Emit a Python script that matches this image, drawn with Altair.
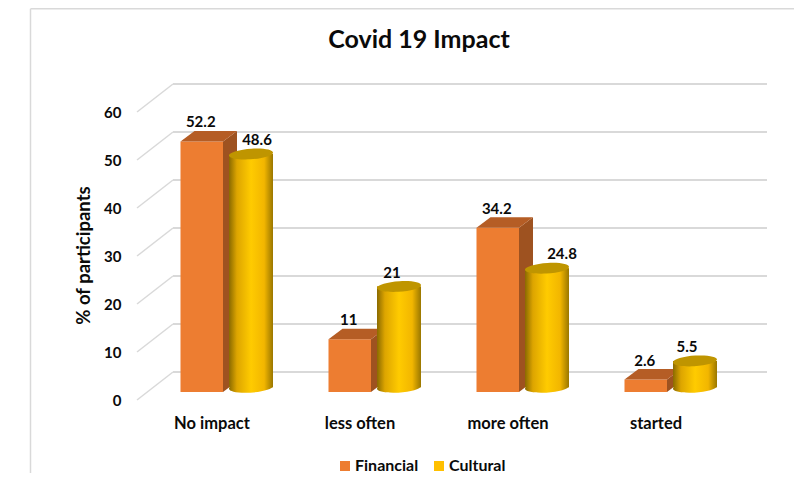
import altair as alt
import pandas as pd

categories = ["No impact", "less often", "more often", "started"]
financial = [52.2, 11, 34.2, 2.6]
cultural = [48.6, 21, 24.8, 5.5]
grid_values = [0, 10, 20, 30, 40, 50, 60]
series_names = ["Financial", "Cultural"]
series_colors = ["#ED7D31", "#FFC000"]
cultural_label_nudge = [6, -7, 15, -8]

FONT = "Lato"
STEP = 148.0
UNIT = 4.8
LEFT, RIGHT, TOP, BOTTOM = 130.0, 794.0, 8.0, 412.0
CAT0_PX, ZERO_Y = 211.5, 400.0


def ux(px):
    return px / STEP


def uy(px):
    return px / UNIT


x_scale = alt.Scale(domain=[(LEFT - CAT0_PX) / STEP, (RIGHT - CAT0_PX) / STEP], nice=False, zero=False)
y_scale = alt.Scale(domain=[(ZERO_Y - BOTTOM) / UNIT, (ZERO_Y - TOP) / UNIT], nice=False, zero=False)
W, H = RIGHT - LEFT, BOTTOM - TOP

FIN_L, FIN_R = ux(-31), ux(11.5)
CYL_L, CYL_R = ux(17.5), ux(61.5)
CYL_C = (CYL_L + CYL_R) / 2
DX, DY = ux(14), uy(10.5)
FIN_LIFT = uy(8)
CYL_LIFT = uy(12.7)
WALL_X0, WALL_X1 = ux(173 - 211.5), ux(767 - 211.5)
FRONT_X = ux(137 - 211.5)
WALL_LIFT = uy(28)

grid = pd.DataFrame({"v": grid_values})
grid["wy"] = grid.v + WALL_LIFT
grid["x0"], grid["x1"], grid["xf"] = WALL_X0, WALL_X1, FRONT_X

x_axis = alt.Axis(values=list(range(len(categories))),
                  labelExpr="['" + "','".join(categories) + "'][round(datum.value)]",
                  title=None, domain=False, ticks=False, grid=False,
                  labelFont=FONT, labelFontWeight="bold", labelFontSize=16.5,
                  labelColor="#0A0A0A", labelPadding=3)
y_axis = alt.Axis(values=grid_values, title="% of participants", titleFont=FONT,
                  titleFontWeight="bold", titleFontSize=18.5, titleColor="#0A0A0A",
                  titleX=-37, titleY=H - 157, domain=False, ticks=False, grid=False,
                  labelFont=FONT, labelFontWeight="bold", labelFontSize=15,
                  labelColor="#0A0A0A", labelPadding=9)


def XX(field):
    return alt.X(field, scale=x_scale, axis=x_axis)


def YY(field):
    return alt.Y(field, scale=y_scale, axis=y_axis)


GRID = "#D9D9D9"
frame = pd.DataFrame({"x": [ux(30.5 - 211.5), ux(30.5 - 211.5)],
                      "x2": [ux(30.5 - 211.5), ux(802 - 211.5)],
                      "y": [(ZERO_Y - 8.7) / UNIT, (ZERO_Y - 8.7) / UNIT],
                      "y2": [(ZERO_Y - 489) / UNIT, (ZERO_Y - 8.7) / UNIT]})
frame_layer = alt.Chart(frame).mark_rule(color=GRID, strokeWidth=1.5).encode(
    x=XX("x:Q"), x2="x2:Q", y=YY("y:Q"), y2="y2:Q")

back = alt.Chart(grid).mark_rule(color=GRID, strokeWidth=2).encode(
    x=XX("x0:Q"), x2="x1:Q", y=YY("wy:Q"))
slant = alt.Chart(grid).mark_rule(color=GRID, strokeWidth=1.5).encode(
    x=XX("xf:Q"), x2="x0:Q", y=YY("v:Q"), y2="wy:Q")

rows_front, rows_side, rows_top, rows_cyl, rows_text = [], [], [], [], []
for i, cat in enumerate(categories):
    f, c = financial[i], cultural[i]
    base, top = FIN_LIFT, FIN_LIFT + f
    rows_front.append(dict(series="Financial", x=i + FIN_L, x2=i + FIN_R, y=top, y2=base))
    rows_side += [dict(id=i, x=i + FIN_R, y=base, y2=top),
                  dict(id=i, x=i + FIN_R + DX, y=base + DY, y2=top + DY)]
    rows_top += [dict(id=i, y=top, x=i + FIN_L, x2=i + FIN_R),
                 dict(id=i, y=top + DY, x=i + FIN_L + DX, x2=i + FIN_R + DX)]
    cb, ct = CYL_LIFT, CYL_LIFT + c
    rows_front.append(dict(series="Cultural", x=i + CYL_L, x2=i + CYL_R, y=ct, y2=cb))
    rows_cyl.append(dict(x=i + CYL_L, x2=i + CYL_R, xc=i + CYL_C, y=ct, y2=cb))
    rows_text.append(dict(x=i + (FIN_L + FIN_R) / 2 + ux(-1), y=top + uy(19), t=f"{f:g}"))
    rows_text.append(dict(x=i + CYL_C + ux(cultural_label_nudge[i]), y=ct + uy(14), t=f"{c:g}"))

front = alt.Chart(pd.DataFrame(rows_front)).mark_rect().encode(
    x=XX("x:Q"), x2="x2:Q", y=YY("y:Q"), y2="y2:Q",
    color=alt.Color("series:N", scale=alt.Scale(domain=series_names, range=series_colors),
                    legend=alt.Legend(orient="none", legendX=207, legendY=450, direction="horizontal",
                                      title=None, symbolType="square", symbolSize=100,
                                      labelFont=FONT, labelFontWeight="bold", labelFontSize=16,
                                      labelColor="#0A0A0A", columnPadding=12, labelOffset=2,
                                      symbolStrokeWidth=0, symbolOpacity=1)))

side = alt.Chart(pd.DataFrame(rows_side)).mark_area(color="#9E5220", opacity=1, orient="vertical").encode(
    x=XX("x:Q"), y=YY("y:Q"), y2="y2:Q", detail="id:N")
roof = alt.Chart(pd.DataFrame(rows_top)).mark_area(color="#B55D25", opacity=1, orient="horizontal").encode(
    y=YY("y:Q"), x=XX("x:Q"), x2="x2:Q", detail="id:N")

grad = alt.Gradient(gradient="linear", x1=0, x2=1, y1=0, y2=0, stops=[
    alt.GradientStop(offset=0, color="#8A6A00"),
    alt.GradientStop(offset=0.18, color="#DDA500"),
    alt.GradientStop(offset=0.5, color="#FFCB00"),
    alt.GradientStop(offset=0.8, color="#F2B600"),
    alt.GradientStop(offset=1, color="#9A7700"),
])
ELLIPSE = "M-1,0.06 A1,0.24 -4 1,1 1,-0.06 A1,0.24 -4 1,1 -1,0.06 Z"
cyl = pd.DataFrame(rows_cyl)
base_ell = alt.Chart(cyl).mark_point(shape=ELLIPSE, size=1936, filled=True, fill=grad, opacity=1, strokeWidth=0).encode(
    x=XX("xc:Q"), y=YY("y2:Q"))
body = alt.Chart(cyl).mark_rect(fill=grad).encode(
    x=XX("x:Q"), x2="x2:Q", y=YY("y:Q"), y2="y2:Q")
top_ell = alt.Chart(cyl).mark_point(shape=ELLIPSE, size=1936, filled=True, fill="#BF9500", opacity=1, strokeWidth=0).encode(
    x=XX("xc:Q"), y=YY("y:Q"))

labels = alt.Chart(pd.DataFrame(rows_text)).mark_text(
    font=FONT, fontWeight="bold", fontSize=15, color="#0A0A0A", baseline="middle", align="center").encode(
    x=XX("x:Q"), y=YY("y:Q"), text="t:N")

chart = alt.layer(frame_layer, back, slant, front, side, roof, base_ell, body, top_ell, labels).properties(
    width=W, height=H,
    autosize=alt.AutoSizeParams(type="none"),
    padding={"left": LEFT - 8, "top": 0, "right": 0, "bottom": 481 - 8 - BOTTOM},
    title=alt.TitleParams("Covid 19 Impact", anchor="middle", dx=419 - (LEFT + RIGHT) / 2, dy=49,
                          font=FONT, fontWeight="bold", fontSize=25, color="#0A0A0A"),
).configure_view(stroke=None)

chart.save("out.html", embed_options={"renderer": "svg", "actions": False})
